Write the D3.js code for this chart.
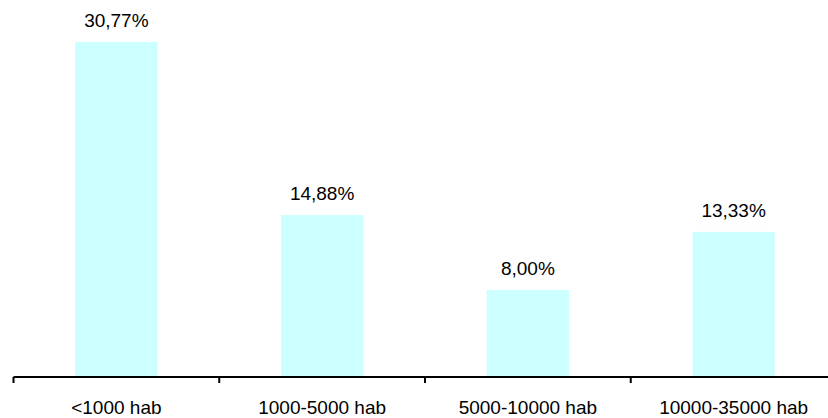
<!DOCTYPE html>
<html><head><meta charset="utf-8">
<script src="https://cdn.jsdelivr.net/npm/d3@7"></script>
<style>body{margin:0;background:#fff}svg{display:block}</style>
</head><body>
<svg id="c" width="828" height="418"></svg>
<script>
const categories = ["<1000 hab", "1000-5000 hab", "5000-10000 hab", "10000-35000 hab"];
const values = [30.77, 14.88, 8.00, 13.33];
const labels = ["30,77%", "14,88%", "8,00%", "13,33%"];

const svg = d3.select("#c");
const x = d3.scaleBand().domain(categories).range([13.5, 836.5]).paddingInner(0.6).paddingOuter(0.3);
const y = d3.scaleLinear().domain([0, 30.77]).range([377, 42]);

svg.selectAll("rect.bar").data(values).join("rect")
  .attr("class","bar")
  .attr("x",(d,i)=>x(categories[i]))
  .attr("width",x.bandwidth())
  .attr("y",d=>y(d))
  .attr("height",d=>y(0)-y(d))
  .attr("fill","#CCFFFF");

svg.selectAll("text.val").data(values).join("text")
  .attr("class","val")
  .attr("x",(d,i)=>x(categories[i])+x.bandwidth()/2)
  .attr("y",d=>y(d)-15)
  .attr("text-anchor","middle")
  .attr("font-family","Liberation Sans, Arial, sans-serif")
  .attr("font-size","19px")
  .attr("fill","#000")
  .text((d,i)=>labels[i]);

// axis
const xb = d3.scalePoint().domain(d3.range(5)).range([13.5, 836.5]);
const g = svg.append("g");
g.append("line").attr("x1",13.5).attr("x2",836.5).attr("y1",377).attr("y2",377)
  .attr("stroke","#000").attr("stroke-width",2);
g.selectAll("line.tk").data(d3.range(5)).join("line").attr("class","tk")
  .attr("x1",d=>xb(d)).attr("x2",d=>xb(d)).attr("y1",377).attr("y2",383)
  .attr("stroke","#000").attr("stroke-width",2);
g.selectAll("text.cat").data(categories).join("text").attr("class","cat")
  .attr("x",d=>x(d)+x.bandwidth()/2)
  .attr("y",414)
  .attr("text-anchor","middle")
  .attr("font-family","Liberation Sans, Arial, sans-serif")
  .attr("font-size","19px")
  .attr("fill","#000")
  .text(d=>d);
</script>
</body></html>
